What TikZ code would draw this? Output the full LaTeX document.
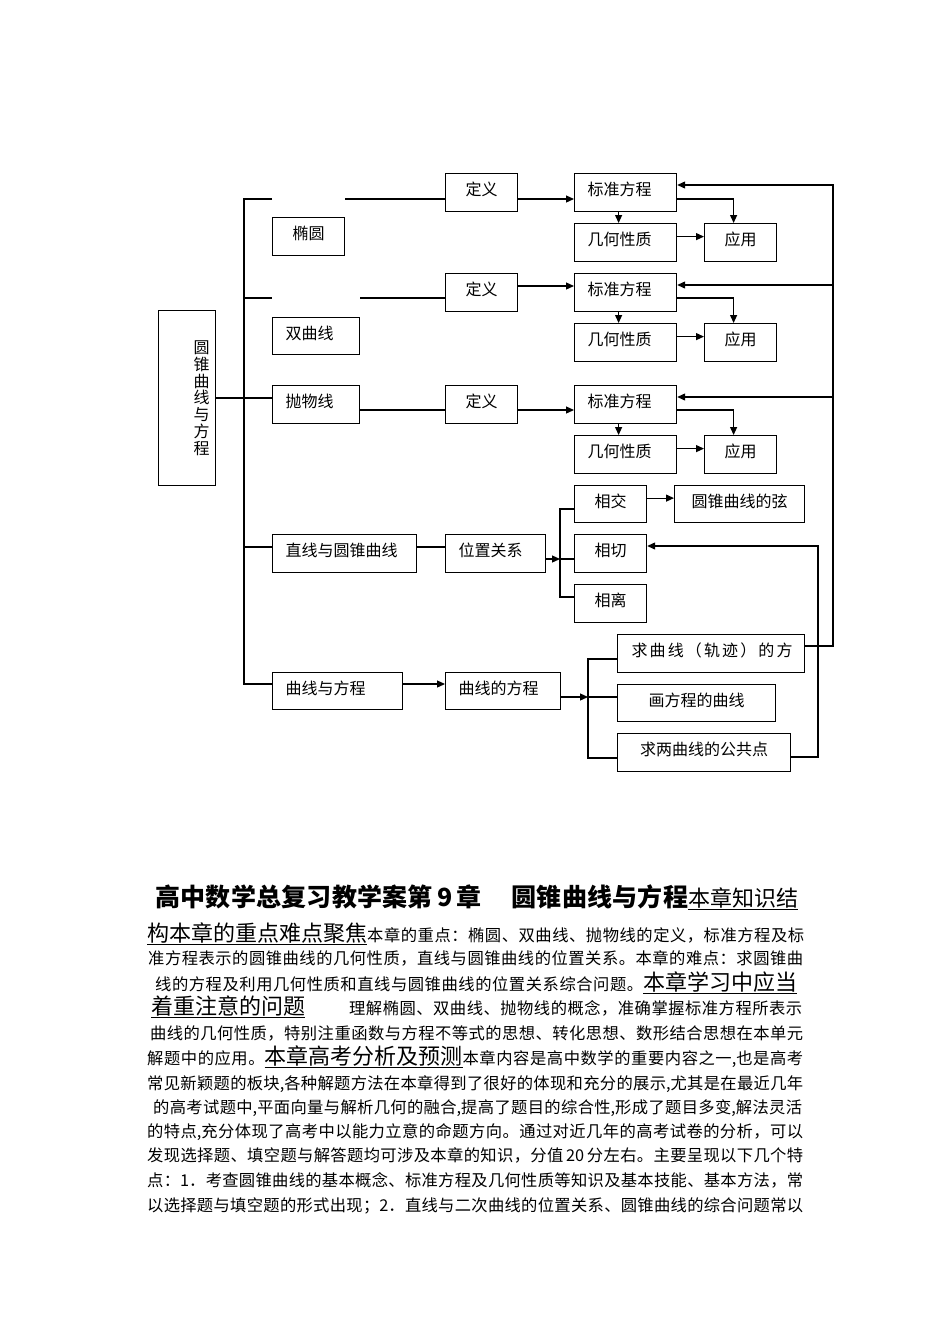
\documentclass[tikz,border=0pt]{standalone}
\usepackage{fontspec}
\setmainfont{Noto Sans CJK SC}
\usetikzlibrary{arrows.meta,calc}

\newcount\cjkc
\cjkc="3000
\loop \XeTeXcharclass\cjkc=10 \advance\cjkc by 1 \ifnum\cjkc<"A000 \repeat
\cjkc="FF00
\loop \XeTeXcharclass\cjkc=10 \advance\cjkc by 1 \ifnum\cjkc<"FFF0 \repeat
\XeTeXinterchartoks 10 10 = {\hskip 0pt plus 1fil minus 1pt\relax}
\newcommand\jline[2]{{\XeTeXinterchartokenstate=1 \makebox[#1][s]{#2}}}
\newcommand\Lg{\fontsize{22}{22}\selectfont}
\newcommand\Sm{\fontsize{16.3}{16.3}\selectfont}

\tikzset{
  bx/.style={draw, line width=1.2pt, inner sep=0pt, anchor=north west,
    font=\fontsize{16}{16}\selectfont, text height=12pt, text depth=6pt},
  bxl/.style={bx, inner xsep=13pt},
  ln/.style={line width=1.2pt},
  arr/.style={line width=1.2pt, -{Triangle[length=8pt,width=7pt]}},
  txt/.style={anchor=base west, inner sep=0pt, font=\Sm},
}

\begin{document}
\begin{tikzpicture}[x=1pt,y=-1pt]
\useasboundingbox (0,0) rectangle (950,1344);

% ---------- boxes ----------
\node[bx, minimum width=57pt, minimum height=175pt, text height=, text depth=] (mb) at (158,310) {};
\node[inner sep=0pt, align=center, font=\fontsize{16}{16.8}\selectfont] (mbt) at ($(mb.center)+(14.5,0)$) {圆\\锥\\曲\\线\\与\\方\\程};

\node[bx, minimum width=72pt, minimum height=38pt] (ty) at (272,217) {椭圆};
\node[bxl, minimum width=87pt, minimum height=37pt] (sq) at (272,317) {\makebox[61pt][l]{双曲线}};
\node[bxl, minimum width=87pt, minimum height=38pt] (pw) at (272,385) {\makebox[61pt][l]{抛物线}};

\node[bx, minimum width=72pt, minimum height=38pt] (dy1) at (445,173) {定义};
\node[bx, minimum width=72pt, minimum height=38pt] (dy2) at (445,273) {定义};
\node[bx, minimum width=72pt, minimum height=38pt] (dy3) at (445,385) {定义};

\node[bxl, minimum width=102pt, minimum height=38pt] (bz1) at (574,173) {\makebox[76pt][l]{标准方程}};
\node[bxl, minimum width=102pt, minimum height=38pt] (bz2) at (574,273) {\makebox[76pt][l]{标准方程}};
\node[bxl, minimum width=102pt, minimum height=38pt] (bz3) at (574,385) {\makebox[76pt][l]{标准方程}};

\node[bxl, minimum width=102pt, minimum height=38pt] (jh1) at (574,223) {\makebox[76pt][l]{几何性质}};
\node[bxl, minimum width=102pt, minimum height=38pt] (jh2) at (574,323) {\makebox[76pt][l]{几何性质}};
\node[bxl, minimum width=102pt, minimum height=38pt] (jh3) at (574,435) {\makebox[76pt][l]{几何性质}};

\node[bx, minimum width=72pt, minimum height=38pt] (yy1) at (704,223) {应用};
\node[bx, minimum width=72pt, minimum height=38pt] (yy2) at (704,323) {应用};
\node[bx, minimum width=72pt, minimum height=38pt] (yy3) at (704,435) {应用};

\node[bx, minimum width=72pt, minimum height=37pt] (xj) at (574,485) {相交};
\node[bx, minimum width=130pt, minimum height=37pt] (xian) at (674,485) {圆锥曲线的弦};
\node[bx, minimum width=72pt, minimum height=38pt] (xq) at (574,534) {相切};
\node[bx, minimum width=72pt, minimum height=38pt] (xl) at (574,584) {相离};

\node[bxl, minimum width=144pt, minimum height=38pt] (zx) at (272,534) {\makebox[118pt][l]{直线与圆锥曲线}};
\node[bxl, minimum width=100pt, minimum height=38pt] (wz) at (445,534) {\makebox[74pt][l]{位置关系}};

\node[bxl, minimum width=130pt, minimum height=37pt] (qf) at (272,672) {\makebox[104pt][l]{曲线与方程}};
\node[bxl, minimum width=115pt, minimum height=37pt] (qd) at (445,672) {\makebox[89pt][l]{曲线的方程}};

\node[bx, inner xsep=14pt, minimum width=187pt, minimum height=38pt] (qq) at (617,634) {\makebox[159pt][l]{\jline{161pt}{求曲线（轨迹）的方}}};
\node[bx, minimum width=158pt, minimum height=37pt] (hf) at (617,684) {画方程的曲线};
\node[bx, minimum width=173pt, minimum height=38pt] (qg) at (617,733) {求两曲线的公共点};

% ---------- coordinates ----------
\coordinate (tt) at (244,199);
\coordinate (tb) at (244,684);
\coordinate (t2) at (244,298);
\coordinate (t3) at (244,398);
\coordinate (t4) at (244,547);
\coordinate (a2) at (0,286);
\coordinate (a3) at (0,410);
\coordinate (R1) at (833,185);
\coordinate (R2) at (833,285);
\coordinate (R3) at (833,397);
\coordinate (R4) at (833,646);
\coordinate (Q1) at (818,757);
\coordinate (Q2) at (818,546);
\coordinate (b1) at (560,559);
\coordinate (b1t) at (560,509);
\coordinate (b1b) at (560,597);
\coordinate (b2) at (588,697);
\coordinate (b2t) at (588,659);
\coordinate (b2b) at (588,758);

% ---------- trunk ----------
\draw[ln] (ty.west |- tt) -- (tt) -- (tb) -- (qf.west |- tb);
\draw[ln] (t2) -- (sq.west |- t2);
\draw[ln] (mb.east |- t3) -- (pw.west |- t3);
\draw[ln] (t4) -- (zx.west |- t4);

% ---------- row 1 ----------
\draw[ln] (ty.north east |- tt) -- (dy1.west |- tt);
\draw[arr] (dy1.east |- tt) -- (bz1.west |- tt);
\draw[arr] ($(bz1.south)+(-7,0)$) -- ($(jh1.north)+(-7,0)$);
\draw[arr] (bz1.east |- tt) -| ($(yy1.north)+(-7,0)$);
\draw[arr] ($(jh1.east)+(0,-6)$) -- ($(yy1.west)+(0,-6)$);

% ---------- row 2 ----------
\draw[ln] (sq.north east |- t2) -- (dy2.west |- t2);
\draw[arr] (dy2.east |- a2) -- (bz2.west |- a2);
\draw[arr] ($(bz2.south)+(-7,0)$) -- ($(jh2.north)+(-7,0)$);
\draw[arr] (bz2.east |- t2) -| ($(yy2.north)+(-7,0)$);
\draw[arr] ($(jh2.east)+(0,-6)$) -- ($(yy2.west)+(0,-6)$);

% ---------- row 3 ----------
\draw[ln] (pw.east |- a3) -- (dy3.west |- a3);
\draw[arr] (dy3.east |- a3) -- (bz3.west |- a3);
\draw[arr] ($(bz3.south)+(-7,0)$) -- ($(jh3.north)+(-7,0)$);
\draw[arr] (bz3.east |- a3) -| ($(yy3.north)+(-7,0)$);
\draw[arr] ($(jh3.east)+(0,-6)$) -- ($(yy3.west)+(0,-6)$);

% ---------- feedback ----------
\draw[arr] (qq.east |- R4) -- (R4) -- (R1) -- (bz1.east |- R1);
\draw[arr] (R2) -- (bz2.east |- R2);
\draw[arr] (R3) -- (bz3.east |- R3);
\draw[arr] (qg.east |- Q1) -- (Q1) -- (Q2) -- (xq.east |- Q2);

% ---------- row 4 ----------
\draw[ln] (zx.east |- t4) -- (wz.west |- t4);
\draw[arr] (wz.east |- b1) -- (b1);
\draw[ln] (xj.west |- b1t) -- (b1t) -- (b1b) -- (xl.west |- b1b);
\draw[ln] (b1) -- (xq.west |- b1);
\draw[arr] ($(xj.east)+(0,-6)$) -- ($(xian.west)+(0,-6)$);

% ---------- row 5 ----------
\draw[arr] (qf.east |- tb) -- (qd.west |- tb);
\draw[arr] (qd.east |- b2) -- (b2);
\draw[ln] (qq.west |- b2t) -- (b2t) -- (b2b) -- (qg.west |- b2b);
\draw[ln] (b2) -- (hf.west |- b2);

% ---------- text ----------
\node[txt] (ti) at (155,906) {\jline{643pt}{{\bfseries\fontsize{25}{25}\selectfont 高中数学总复习教学案第\,9\,章\hspace{1.2em}圆锥曲线与方程}{\Lg\underline{本章知识结}}}};
\node[txt] (l2) at (147,941) {\jline{657pt}{\underline{\Lg 构本章的重点难点聚焦}本章的重点：椭圆、双曲线、抛物线的定义，标准方程及标}};
\node[txt] (l3) at (148,964) {\jline{655pt}{准方程表示的圆锥曲线的几何性质，直线与圆锥曲线的位置关系。本章的难点：求圆锥曲}};
\node[txt] (l4) at (155,990) {\jline{642pt}{线的方程及利用几何性质和直线与圆锥曲线的位置关系综合问题。\underline{\Lg 本章学习中应当}}};
\node[txt] (l5a) at (151,1014) {\underline{\Lg 着重注意的问题}};
\node[txt] (l5b) at (349,1014) {\jline{453pt}{理解椭圆、双曲线、抛物线的概念，准确掌握标准方程所表示}};
\node[txt] (l6) at (150,1039) {\jline{653pt}{曲线的几何性质，特别注重函数与方程不等式的思想、转化思想、数形结合思想在本单元}};
\node[txt] (l7) at (147,1064) {\jline{656pt}{解题中的应用。\underline{\Lg 本章高考分析及预测}本章内容是高中数学的重要内容之一,也是高考}};
\node[txt] (l8) at (147,1089) {\jline{656pt}{常见新颖题的板块,各种解题方法在本章得到了很好的体现和充分的展示,尤其是在最近几年}};
\node[txt] (l9) at (153,1113) {\jline{649pt}{的高考试题中,平面向量与解析几何的融合,提高了题目的综合性,形成了题目多变,解法灵活}};
\node[txt] (l10) at (147,1137) {\jline{656pt}{的特点,充分体现了高考中以能力立意的命题方向。通过对近几年的高考试卷的分析，可以}};
\node[txt] (l11) at (147,1161) {\jline{656pt}{发现选择题、填空题与解答题均可涉及本章的知识，分值\,20\,分左右。主要呈现以下几个特}};
\node[txt] (l12) at (147,1186) {\jline{656pt}{点：1．考查圆锥曲线的基本概念、标准方程及几何性质等知识及基本技能、基本方法，常}};
\node[txt] (l13) at (147,1211) {\jline{656pt}{以选择题与填空题的形式出现；2．直线与二次曲线的位置关系、圆锥曲线的综合问题常以}};
\end{tikzpicture}
\end{document}
